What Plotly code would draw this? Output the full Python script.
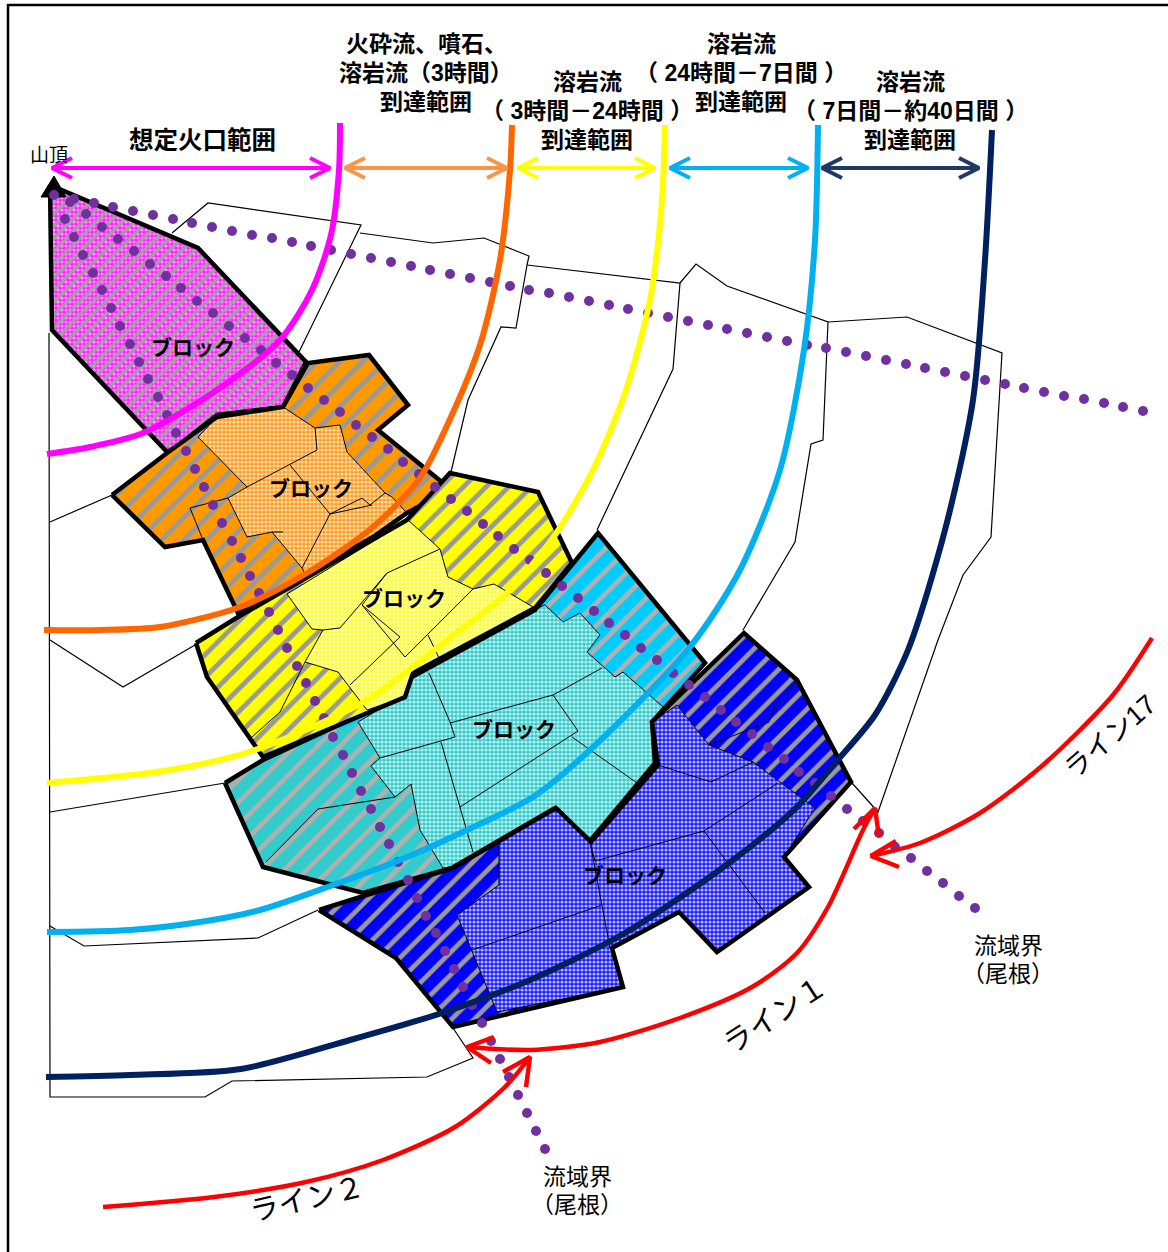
import plotly.graph_objects as go

# ---- map geometry (image pixel space) ----
_ = None
thin_bg_x = [172,208,361,299,_,360,433,484,529,527,516,501,468,451,_,527,680,696,727,828,823,811,795,743,_,680,673,597,_,828,907,1002,991,963,938,878,852,_,875,878,_,
             49,50,205,232,427,473,453,_,50,112,_,50,123,195,_,50,225,_,50,84,258,318]
thin_bg_y = [233,203,225,352,_,233,243,238,256,265,328,327,400,472,_,265,283,264,286,322,440,444,542,630,_,283,369,530,_,322,317,353,537,575,640,812,783,_,808,812,_,
             333,1097,1097,1081,1077,1058,1028,_,522,495,_,640,687,645,_,812,783,_,926,946,938,910]

b1_x = [50,198,306,283,217,175,167,52]
b1_y = [185,248,362,407,415,448,452,330]

b2_x = [112,167,217,283,308,369,408,378,443,425,407,373,238,203,165]
b2_y = [495,453,417,407,363,355,405,430,483,503,513,537,613,540,547]
b2l_x = [198,217,283,315,340,347,385,392,407,373,307,302,272,247,228,247]
b2l_y = [437,417,407,428,425,452,493,497,513,537,577,568,532,537,498,487]
b2i_x = [315,317,247,_,290,330,_,228,190,203,_,302,330,362,370,385,_,330,372,_,272,283]
b2i_y = [428,450,487,_,465,514,_,498,508,540,_,568,514,498,505,493,_,514,505,_,532,532]

b3_x = [196,238,407,450,538,572,535,413,405,263,207]
b3_y = [643,617,520,473,492,563,608,673,697,757,677]
b3l_x = [287,408,440,448,473,494,533,413,405,367,338,305,323,312]
b3l_y = [594,520,549,577,589,584,607,673,697,710,672,662,630,629]
b3i_x = [323,340,387,440,_,362,400,350,_,362,405,473,_,428,440,_,305,280,252,_,387,362]
b3i_y = [630,628,573,549,_,605,637,685,_,605,657,589,_,635,660,_,662,712,737,_,573,605]

b4_x = [225,263,403,410,535,572,598,705,652,655,590,555,452,363,263]
b4_y = [783,760,695,678,610,565,533,663,722,763,841,808,868,893,867]
b4s_x = [225,263,358,380,371,395,411,420,443,452,363,263]
b4s_y = [783,760,722,758,766,797,784,830,868,868,893,867]
b4l_x = [358,403,412,533,545,563,580,600,587,615,623,663,652,655,590,555,452,443,420,411,395,371,380]
b4l_y = [722,695,678,610,605,622,613,635,652,677,672,707,722,763,841,808,868,868,830,784,797,766,758]
b4i_x = [429,450,455,380,_,450,553,602,_,553,578,460,_,572,637,_,441,460,473,_,395,318,266]
b4i_y = [673,722,737,758,_,723,695,668,_,695,731,807,_,737,783,_,742,807,852,_,797,809,862]

b5_x = [319,453,556,591,658,652,744,797,851,784,809,717,679,612,623,453,396]
b5_y = [910,868,808,842,765,722,633,680,782,857,887,952,912,948,987,1027,958]
b5l_x = [677,709,753,815,784,809,717,679,612,623,497,457,499,499,556,591,658,652]
b5l_y = [705,745,762,808,857,887,952,912,948,987,1012,915,885,843,808,842,765,722]
b5i_x = [658,711,753,_,595,704,778,_,704,765,_,590,610,_,472,602,_,709,769,778,796,_,595,590]
b5i_y = [765,782,762,_,861,831,783,_,831,913,_,842,948,_,950,905,_,745,722,700,683,_,861,842]

summit_x = [54,41,66]
summit_y = [176,197,197]

ridge_n_x = [54,74,94,113,133,153,173,192,212,232,252,272,292,311,331,351,371,391,411,430,450,470,490,510,529,549,569,589,609,628,648,668,688,708,727,747,767,787,807,826,846,866,886,906,925,945,965,985,1005,1024,1044,1064,1084,1104,1123,1143]
ridge_n_y = [195,199,203,207,211,215,219,223,227,231,235,238,242,246,250,254,258,262,266,270,274,278,282,286,290,293,297,301,305,309,313,317,321,325,329,333,337,341,345,348,352,356,360,364,368,372,376,380,384,388,392,396,399,403,407,411]

ridge_s_x = [65,74,83,93,102,111,120,130,139,148,158,167,176,186,195,204,213,222,232,241,250,259,269,278,287,297,306,315,324,333,343,352,361,371,380,389,398,408,417,426,436,445,454,463,472,482,491,500,509,518,527,536,545]
ridge_s_y = [219,237,255,273,290,308,326,344,362,379,397,415,433,451,469,487,505,523,541,558,576,593,612,630,648,666,683,701,718,737,755,773,791,809,827,844,862,880,898,916,933,951,969,987,1005,1023,1041,1059,1077,1095,1113,1131,1149]

ridge_m_x = [70,86,102,118,134,150,166,181,197,213,229,245,261,276,292,308,324,340,356,372,388,403,419,435,451,467,483,498,514,530,546,562,578,594,609,625,641,657,673,689,705,721,736,752,768,784,799,815,831,847,863,879,895,911,927,943,959,975]
ridge_m_y = [202,214,227,239,251,264,276,288,301,313,326,338,350,363,375,388,400,412,425,437,449,462,474,487,499,511,524,536,549,560,573,586,598,611,623,635,648,660,673,685,697,710,722,734,747,759,772,783,796,809,821,833,847,858,871,883,896,908]

c_mag_x = [340,339,331,312,280,217,143,90,47]
c_mag_y = [123,170,235,290,340,390,433,447,454]
c_org_x = [512,510,500,480,445,420,373,307,240,160,100,44]
c_org_y = [125,170,260,345,430,478,527,573,607,627,630,630]
c_yel_x = [665,662,650,625,593,555,507,447,367,255,170,47]
c_yel_y = [125,200,300,393,470,535,593,640,700,750,770,783]
c_cya_x = [818,815,804,780,740,690,590,533,467,400,333,260,200,130,47]
c_cya_y = [125,240,350,470,570,647,750,797,830,860,885,910,922,930,932]
c_nav_x = [992,985,973,945,908,875,836,797,729,625,530,445,350,241,130,46]
c_nav_y = [130,260,400,530,650,715,762,807,863,933,980,1012,1040,1069,1075,1077]

red17_x = [1152,1113,1043,980,920,871]
red17_y = [638,695,765,813,843,856]
red1_x = [468,530,600,680,752,797,828,863,875]
red1_y = [1047,1050,1042,1018,987,953,907,830,808]
red2_x = [103,214,306,383,455,505,530]
red2_y = [1207,1197,1182,1160,1127,1087,1057]
red_head_x = [896,871,899,_,494,467,491,_,854,875,879,_,503,530,526]
red_head_y = [841,856,867,_,1037,1047,1063,_,829,808,837,_,1072,1057,1087]

span_left = [52,345,518,670,822]
span_right = [330,507,655,808,979]
span_y = 168
span_colors = ["#ff00ff","#f79646","#ffff00","#00b0f0","#1f3864"]

frame_x = [8,8,1168]
frame_y = [1252,5,5]

labels = [
    ("想定火口範囲",202,140,24.5,True,0),
    ("火砕流、噴石、",426,44,23,True,0),("溶岩流（3時間）",426,73,23,True,0),("到達範囲",426,102,23,True,0),
    ("溶岩流",587,82,23,True,0),("（ 3時間－24時間 ）",587,111,23,True,0),("到達範囲",587,140,23,True,0),
    ("溶岩流",741,44,23,True,0),("（ 24時間－7日間 ）",741,73,23,True,0),("到達範囲",741,102,23,True,0),
    ("溶岩流",910,82,23,True,0),("（ 7日間－約40日間 ）",910,111,23,True,0),("到達範囲",910,140,23,True,0),
    ("山頂",49,155,19,False,0),
    ("ブロック",193,347,21,True,0),("ブロック",311,488,21,True,0),("ブロック",404,598,21,True,0),
    ("ブロック",514,729,21,True,0),("ブロック",625,875,21,True,0),
    ("流域界",1008,946,23,False,0),("（尾根）",1008,974,23,False,0),
    ("流域界",577,1177,23,False,0),("（尾根）",577,1205,23,False,0),
    ("ライン17",1110,737,27,False,-41),("ライン１",775,1015,29,False,-33),("ライン２",307,1199,29,False,-13),
]

# ---- drawing ----
fig = go.Figure()

def line(x, y, color="black", w=1.0, shape="linear"):
    fig.add_trace(go.Scatter(x=x, y=y, mode="lines", line=dict(color=color, width=w, shape=shape, smoothing=0.8),
                             hoverinfo="skip", showlegend=False))

def fill(x, y, shape, fg, bg, size, sol):
    fig.add_trace(go.Scatter(x=x+x[:1], y=y+y[:1], mode="none", fill="toself", fillcolor=bg,
                             fillpattern=dict(shape=shape, fgcolor=fg, fgopacity=1, bgcolor=bg, size=size, solidity=sol, fillmode="replace"),
                             hoverinfo="skip", showlegend=False))

def outline(x, y):
    line(x+x[:1], y+y[:1], "black", 4.5)

STRIPE = 16
SOL = 0.3
line(thin_bg_x, thin_bg_y, "black", 1.2)

# block 1
fill(b1_x, b1_y, ".", "#ffa8ff", "#ff20ff", 4, 0.45)
fill(b1_x, b1_y, "/", "#a0a0a0", "rgba(0,0,0,0)", 9, 0.33)
outline(b1_x, b1_y)
# block 2
fill(b2_x, b2_y, "/", "#999999", "#ff9900", STRIPE, SOL)
fill(b2l_x, b2l_y, ".", "#ffe0b0", "#ff9c20", 4, 0.5)
line(b2l_x+b2l_x[:1], b2l_y+b2l_y[:1], "black", 1.0)
line(b2i_x, b2i_y, "black", 1.0)
outline(b2_x, b2_y)
# block 4 before 3 so the shared edge stays clean
fill(b4_x, b4_y, "/", "#b0b0b0", "#00ccff", STRIPE, SOL)
fill(b4s_x, b4s_y, "/", "#b0b0b0", "#33cccc", STRIPE, SOL)
fill(b4l_x, b4l_y, ".", "#c0f0f0", "#33cccc", 4, 0.5)
line(b4l_x+b4l_x[:1], b4l_y+b4l_y[:1], "black", 1.0)
line(b4i_x, b4i_y, "black", 1.0)
outline(b4_x, b4_y)
# block 3
fill(b3_x, b3_y, "/", "#999999", "#ffff00", STRIPE, SOL)
fill(b3l_x, b3l_y, ".", "#ffffd0", "#ffff20", 4, 0.5)
line(b3l_x+b3l_x[:1], b3l_y+b3l_y[:1], "black", 1.0)
line(b3i_x, b3i_y, "black", 1.0)
outline(b3_x, b3_y)
# block 5
fill(b5_x, b5_y, "/", "#999999", "#0000ff", STRIPE, SOL)
fill(b5l_x, b5l_y, ".", "#b8b8ff", "#1a1aff", 4, 0.5)
line(b5l_x+b5l_x[:1], b5l_y+b5l_y[:1], "black", 1.0)
line(b5i_x, b5i_y, "black", 1.0)
outline(b5_x, b5_y)

# summit
fig.add_trace(go.Scatter(x=summit_x+summit_x[:1], y=summit_y+summit_y[:1], mode="lines", fill="toself",
                         fillcolor="black", line=dict(color="black", width=1), hoverinfo="skip", showlegend=False))

# ridges
for rx, ry in [(ridge_n_x, ridge_n_y), (ridge_s_x, ridge_s_y), (ridge_m_x, ridge_m_y)]:
    fig.add_trace(go.Scatter(x=rx, y=ry, mode="markers", marker=dict(color="#7030a0", size=10, line=dict(width=0)),
                             hoverinfo="skip", showlegend=False))

# reach curves
line(c_mag_x, c_mag_y, "#ff00ff", 6, "spline")
line(c_org_x, c_org_y, "#ff6600", 6, "spline")
line(c_yel_x, c_yel_y, "#ffff00", 6, "spline")
line(c_cya_x, c_cya_y, "#00b0f0", 6, "spline")
line(c_nav_x, c_nav_y, "#002060", 6, "spline")

# span arrows
for l, r, col in zip(span_left, span_right, span_colors):
    line([l, r], [span_y, span_y], col, 4)
    line([l+20, l, l+20], [span_y-10, span_y, span_y+10], col, 4)
    line([r-20, r, r-20], [span_y-10, span_y, span_y+10], col, 4)

# red arrows
line(red17_x, red17_y, "#ff0000", 4.5, "spline")
line(red1_x, red1_y, "#ff0000", 4.5, "spline")
line(red2_x, red2_y, "#ff0000", 4.5, "spline")
line(red_head_x, red_head_y, "#ff0000", 4.5)

# frame
line(frame_x, frame_y, "black", 2.5)

ann = []
for text, x, y, size, bold, rot in labels:
    ann.append(dict(x=x, y=y, xref="x", yref="y", text=f"<b>{text}</b>" if bold else text, showarrow=False,
                    xanchor="center", yanchor="middle", align="center", textangle=rot,
                    font=dict(family="Liberation Sans, Noto Sans CJK JP", size=size, color="black")))

fig.update_layout(width=1168, height=1252, margin=dict(l=0, r=0, t=0, b=0), paper_bgcolor="white", plot_bgcolor="white",
                  xaxis=dict(range=[0,1168], visible=False, fixedrange=True),
                  yaxis=dict(range=[1252,0], visible=False, fixedrange=True),
                  showlegend=False, annotations=ann)
fig.write_html("out.html", config=dict(displayModeBar=False),
               post_script="document.body.style.margin='0';document.body.style.overflow='hidden';")
